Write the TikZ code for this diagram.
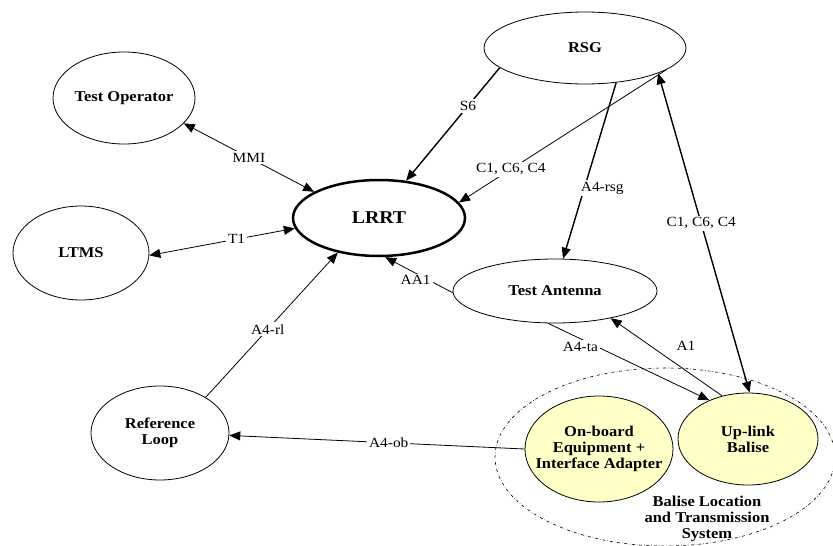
\documentclass[tikz,border=0pt]{standalone}
\usepackage{fontspec}
\setmainfont{Liberation Serif}[FakeStretch=1.1]
\usepackage{xcolor}
\usetikzlibrary{arrows.meta, shapes.geometric}

\definecolor{balise}{RGB}{255,255,200}

\tikzset{
  unit/.style={ellipse, draw, line width=0.8pt, inner sep=0pt, align=center,
    font=\bfseries\fontsize{15}{16}\selectfont},
  flow/.style={line width=0.8pt, -{Triangle[length=11pt,width=9pt]}},
  bothflow/.style={line width=0.8pt, {Triangle[length=11pt,width=9pt]}-{Triangle[length=11pt,width=9pt]}},
  heavy/.style={line width=1.4pt},
  tag/.style={fill=white, inner sep=2pt, font=\fontsize{14}{16}\selectfont},
  obtext/.style={align=center, font=\bfseries\fontsize{15}{16}\selectfont}
}

\begin{document}
\begin{tikzpicture}[x=1pt, y=-1pt]
  \useasboundingbox (0,0) rectangle (833,546);

  % system boundary
  \node[ellipse, draw, dash dot, line width=0.6pt, minimum width=340pt, minimum height=178pt] (blts) at (665,457) {};

  \node[unit, minimum width=142pt, minimum height=92pt] (oper) at (124,98) {Test Operator};
  \node[unit, minimum width=136pt, minimum height=94pt] (ltms) at (81,253) {LTMS};
  \node[unit, line width=2.5pt, minimum width=172pt, minimum height=76pt,
    font=\bfseries\fontsize{18}{20}\selectfont] (lrrt) at (379,218) {LRRT};
  \node[unit, minimum width=202pt, minimum height=72pt] (rsg) at (585,48) {RSG};
  \node[unit, minimum width=204pt, minimum height=64pt] (ant) at (555,291) {Test Antenna};
  \node[unit, minimum width=138pt, minimum height=94pt] (loop) at (160,433) {Reference\\Loop};
  \node[unit, fill=balise, minimum width=148pt, minimum height=106pt,
    label={[obtext]center:On-board\\Equipment +\\Interface Adapter}] (obu) at (599,449) {};
  \node[unit, fill=balise, minimum width=140pt, minimum height=92pt] (bal) at (748,439) {Up-link\\Balise};
  \node[obtext] (bltsname) at (707,519) {Balise Location\\and Transmission\\System};

  % interfaces
  \draw[bothflow] (lrrt.158) -- node[tag] {MMI} (oper.-23);
  \draw[bothflow] (lrrt.187) -- node[tag, pos=.4] {T1} (ltms.-2);
  \draw[flow, heavy] (rsg.193) -- node[tag, pos=.34] {S6} (lrrt.54);
  \draw[flow] (rsg.-15) -- node[tag, pos=.75] {C1, C6, C4} (lrrt.11);
  \draw[flow, heavy] (rsg.-48) -- node[tag, pos=.6, xshift=18pt] {A4-rsg} (ant.76);
  \draw[bothflow, heavy] (bal.88) -- node[tag, pos=.53] {C1, C6, C4} (rsg.-19);
  \draw[flow] (ant.181) -- node[tag, pos=.55, yshift=-7pt] {AA1} (lrrt.-81);
  \draw[flow] (loop.38) -- node[tag, pos=.47] {A4-rl} (lrrt.220);
  \draw[flow] (obu.180) -- node[tag, pos=.46] {A4-ob} (loop.-2);
  \draw[flow] (ant.-102) -- node[tag, pos=.2, yshift=-8pt] {A4-ta} (bal.135);
  \draw[flow] (bal.121) -- node[tag, pos=.63, xshift=34pt, yshift=1pt] {A1} (ant.-26);
\end{tikzpicture}
\end{document}
